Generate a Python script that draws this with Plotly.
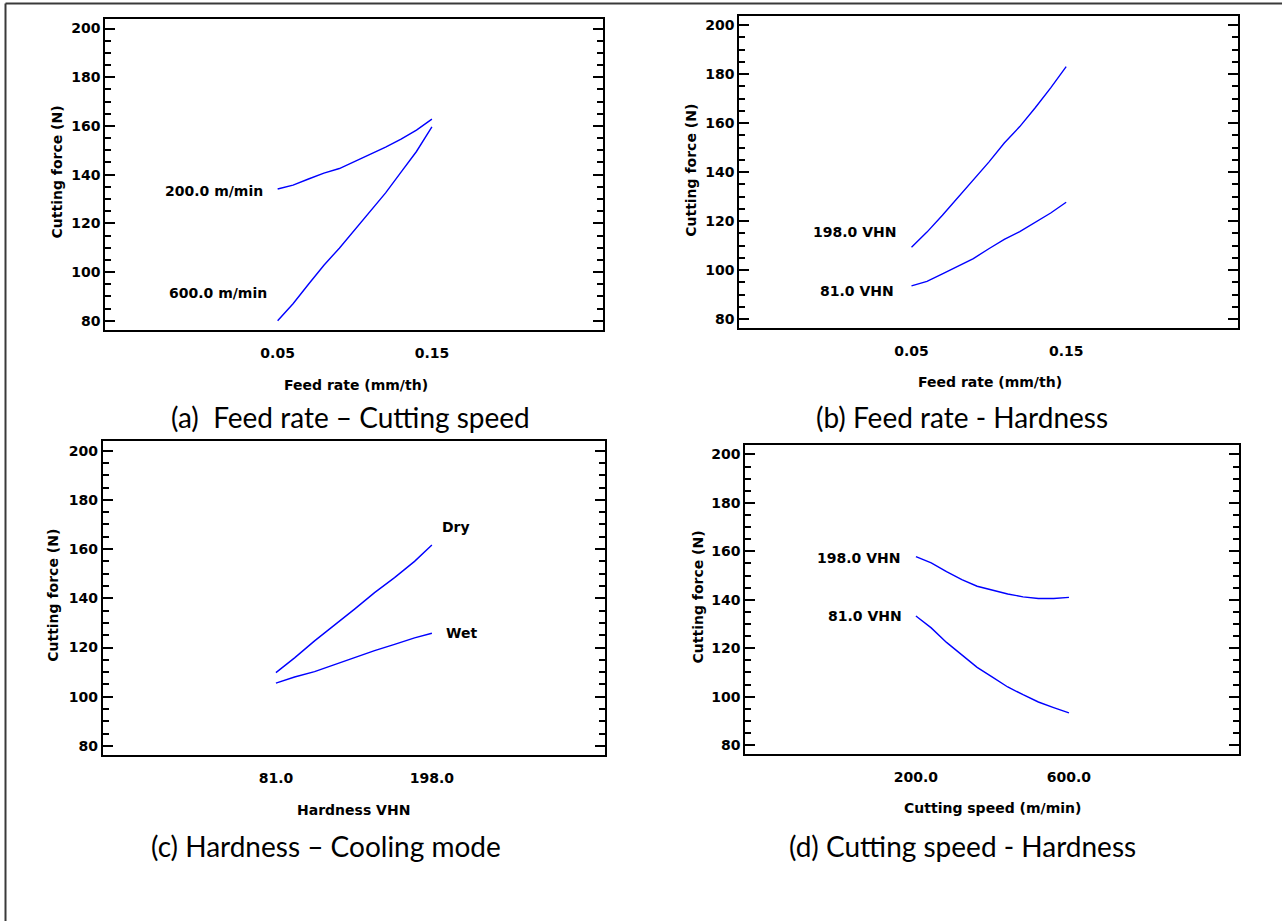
import plotly.graph_objects as go

W, H = 1282, 921

# ---------------- data ----------------
feed_rate = [0.05, 0.06, 0.07, 0.08, 0.09, 0.10, 0.11, 0.12, 0.13, 0.14, 0.15]
a_speed_200 = [134.1, 135.7, 138.2, 140.6, 142.5, 145.4, 148.4, 151.3, 154.6, 158.3, 162.8]
a_speed_600 = [80.0, 87.0, 95.0, 102.8, 109.8, 117.5, 125.1, 132.5, 141.0, 149.5, 159.6]

b_hard_198 = [109.3, 115.5, 122.4, 129.7, 136.8, 144.1, 151.9, 158.6, 166.3, 174.4, 183.1]
b_hard_81 = [93.5, 95.4, 98.4, 101.5, 104.7, 108.7, 112.5, 115.7, 119.6, 123.3, 127.7]

hardness = [81, 95, 110, 125, 140, 155, 170, 185, 198]
c_dry = [109.8, 115.8, 122.7, 129.1, 135.6, 142.3, 148.4, 155.0, 161.6]
c_wet = [105.5, 108.0, 110.2, 113.1, 115.9, 118.7, 121.3, 123.9, 125.8]

cutting_speed = [200, 240, 280, 320, 360, 400, 440, 480, 520, 560, 600]
d_hard_198 = [157.8, 155.2, 151.6, 148.3, 145.6, 143.9, 142.4, 141.2, 140.5, 140.5, 141.0]
d_hard_81 = [133.3, 128.4, 122.4, 117.4, 112.1, 108.1, 104.0, 100.8, 97.8, 95.5, 93.3]

y_ticks = [80, 100, 120, 140, 160, 180, 200]
a_xticks, a_xticktext = [0.05, 0.15], ["0.05", "0.15"]
b_xticks, b_xticktext = [0.05, 0.15], ["0.05", "0.15"]
c_xticks, c_xticktext = [81, 198], ["81.0", "198.0"]
d_xticks, d_xticktext = [200, 600], ["200.0", "600.0"]

y_title = "Cutting force (N)"
x_titles = ["Feed rate (mm/th)", "Feed rate (mm/th)", "Hardness VHN", "Cutting speed (m/min)"]
captions = ["(a)\u00a0\u00a0Feed rate \u2013 Cutting speed", "(b) Feed rate - Hardness",
            "(c) Hardness \u2013 Cooling mode", "(d) Cutting speed - Hardness"]

# ---------------- layout helpers ----------------
def px(x):
    return x / W

def py(y):
    return 1 - y / H

BLUE = "#0000ff"
TICKFONT = dict(family="DejaVu Sans, Arial", size=14, color="black", weight="bold")
CAPFONT = dict(family="Lato, Open Sans, sans-serif", size=28, color="black")

fig = go.Figure()

def add_line(x, y, i):
    fig.add_trace(go.Scatter(x=x, y=y, mode="lines", line=dict(color=BLUE, width=1.4),
                             xaxis="x" if i == 1 else f"x{i}", yaxis="y" if i == 1 else f"y{i}",
                             showlegend=False, hoverinfo="x+y"))

add_line(feed_rate, a_speed_200, 1)
add_line(feed_rate, a_speed_600, 1)
add_line(feed_rate, b_hard_198, 2)
add_line(feed_rate, b_hard_81, 2)
add_line(hardness, c_dry, 3)
add_line(hardness, c_wet, 3)
add_line(cutting_speed, d_hard_198, 4)
add_line(cutting_speed, d_hard_81, 4)

# box pixel positions: (left, right, top, bottom)
boxes = [(105.3, 603.3, 19, 330), (739.2, 1238, 15.7, 328.3),
         (102.9, 604.9, 441, 755.3), (745.3, 1239.2, 445, 754.3)]
xranges = [[-0.0617, 0.2611], [-0.0614, 0.2611], [-48.8, 327.8], [-246, 1045]]
xticks = [(a_xticks, a_xticktext), (b_xticks, b_xticktext), (c_xticks, c_xticktext), (d_xticks, d_xticktext)]

layout = dict(width=W, height=H, margin=dict(l=0, r=0, t=0, b=0),
              paper_bgcolor="white", plot_bgcolor="white", showlegend=False)

for i, (l, r, t, b) in enumerate(boxes, start=1):
    xk = "xaxis" if i == 1 else f"xaxis{i}"
    yk = "yaxis" if i == 1 else f"yaxis{i}"
    ya = "y" if i == 1 else f"y{i}"
    xa = "x" if i == 1 else f"x{i}"
    layout[xk] = dict(domain=[px(l), px(r)], anchor=ya, range=xranges[i - 1],
                      tickvals=xticks[i - 1][0], ticktext=xticks[i - 1][1],
                      ticks="", showgrid=False, zeroline=False,
                      showline=True, linecolor="black", linewidth=2, mirror=True,
                      tickfont=TICKFONT, ticklabelstandoff=9)
    layout[yk] = dict(domain=[py(b), py(t)], anchor=xa, range=[76.2, 203.9],
                      tickvals=y_ticks, ticks="inside", ticklen=10, tickwidth=2, tickcolor="black",
                      minor=dict(dtick=5, tick0=0, ticks="inside", ticklen=6, tickwidth=2, tickcolor="black"),
                      showgrid=False, zeroline=False,
                      showline=True, linecolor="black", linewidth=2, mirror="ticks",
                      tickfont=TICKFONT)

fig.update_layout(**layout)

annotations = []

def text(x, y, s, xanchor="center", font=TICKFONT, angle=0):
    annotations.append(dict(x=px(x), y=py(y), xref="paper", yref="paper", text=s,
                            showarrow=False, xanchor=xanchor, yanchor="middle",
                            font=font, textangle=angle))

# y-axis titles
text(57, 172.5, y_title, angle=-90)
text(691, 170.8, y_title, angle=-90)
text(53, 595.8, y_title, angle=-90)
text(697, 597.5, y_title, angle=-90)
# x-axis titles
text(355.7, 385, x_titles[0])
text(990, 382.3, x_titles[1])
text(354, 810, x_titles[2])
text(992.7, 808.3, x_titles[3])
# captions
text(350.6, 416.7, captions[0], font=CAPFONT)
text(962.4, 416.7, captions[1], font=CAPFONT)
text(326, 846, captions[2], font=CAPFONT)
text(962.4, 846, captions[3], font=CAPFONT)
# curve labels
text(264.5, 190.7, "200.0 m/min", xanchor="right")
text(269.4, 293.3, "600.0 m/min", xanchor="right")
text(898.4, 232.3, "198.0 VHN", xanchor="right")
text(895.5, 291, "81.0 VHN", xanchor="right")
text(440, 527.3, "Dry", xanchor="left")
text(444, 633.3, "Wet", xanchor="left")
text(902.4, 557.7, "198.0 VHN", xanchor="right")
text(904.1, 616, "81.0 VHN", xanchor="right")

fig.update_layout(annotations=annotations)

# outer page border (top and left only)
fig.update_layout(shapes=[
    dict(type="line", xref="paper", yref="paper", x0=px(5.5), y0=py(3.5), x1=1, y1=py(3.5),
         line=dict(color="#3a3a3a", width=2)),
    dict(type="line", xref="paper", yref="paper", x0=px(5.5), y0=py(3.5), x1=px(5.5), y1=0,
         line=dict(color="#3a3a3a", width=2)),
])

fig.write_html("out.html")
